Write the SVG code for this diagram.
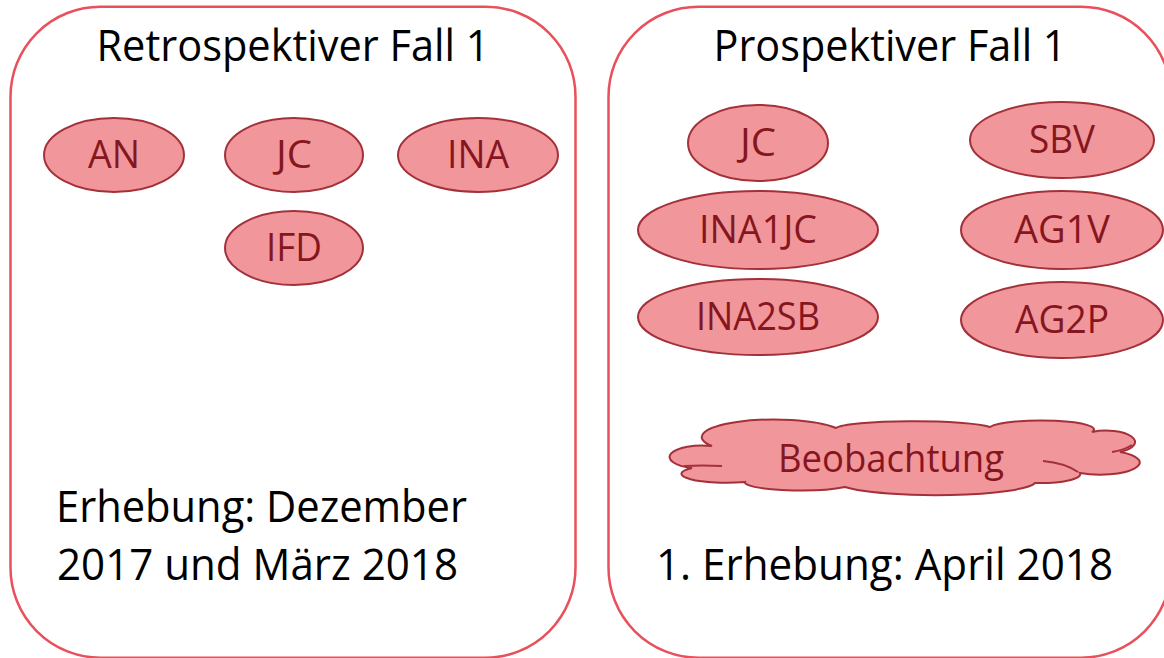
<svg xmlns="http://www.w3.org/2000/svg" width="1164" height="658" viewBox="0 0 1164 658">
<defs>
<style>
.panel{fill:#ffffff;stroke:#E8505B;stroke-width:2.5}
.node{fill:#F1969B;stroke:#A3313A;stroke-width:2}
.inner{fill:none;stroke:#A3313A;stroke-width:2}
.big{font-family:"Open Sans","Liberation Sans",sans-serif;font-size:43px;fill:#000000}
.lbl{font-family:"Open Sans","Liberation Sans",sans-serif;font-size:38px;fill:#86161E;text-anchor:middle}
</style>
</defs>
<rect width="1164" height="658" fill="#ffffff"/>
<g id="panel-retro">
<rect class="panel" x="10.5" y="6.7" width="565" height="651" rx="90" ry="90"/>
<text class="big" x="293" y="61" text-anchor="middle" textLength="393" lengthAdjust="spacingAndGlyphs">Retrospektiver Fall 1</text>
<text class="big" x="56" y="522" textLength="411" lengthAdjust="spacingAndGlyphs">Erhebung: Dezember</text>
<text class="big" x="57" y="580" textLength="401" lengthAdjust="spacingAndGlyphs">2017 und März 2018</text>
</g>
<g id="panel-prosp">
<rect class="panel" x="608.5" y="6.7" width="562.5" height="651" rx="90" ry="90"/>
<text class="big" x="890" y="61" text-anchor="middle" textLength="353" lengthAdjust="spacingAndGlyphs">Prospektiver Fall 1</text>
<text class="big" x="656" y="580" textLength="457" lengthAdjust="spacingAndGlyphs">1. Erhebung: April 2018</text>
</g>
<g id="node-AN"><ellipse class="node" cx="114" cy="155" rx="70" ry="37"/><text class="lbl" x="114" y="168" textLength="52" lengthAdjust="spacingAndGlyphs">AN</text></g>
<g id="node-JC-retro"><ellipse class="node" cx="294" cy="155" rx="69" ry="37"/><text class="lbl" x="294" y="168" textLength="36" lengthAdjust="spacingAndGlyphs">JC</text></g>
<g id="node-INA"><ellipse class="node" cx="478" cy="155" rx="80" ry="37"/><text class="lbl" x="478" y="168" textLength="62" lengthAdjust="spacingAndGlyphs">INA</text></g>
<g id="node-IFD"><ellipse class="node" cx="294" cy="248" rx="69" ry="37"/><text class="lbl" x="294" y="261" textLength="56" lengthAdjust="spacingAndGlyphs">IFD</text></g>
<g id="node-JC-prosp"><ellipse class="node" cx="758" cy="143" rx="70" ry="38"/><text class="lbl" x="758" y="156" textLength="36" lengthAdjust="spacingAndGlyphs">JC</text></g>
<g id="node-SBV"><ellipse class="node" cx="1062" cy="140" rx="92" ry="38"/><text class="lbl" x="1062" y="153" textLength="66" lengthAdjust="spacingAndGlyphs">SBV</text></g>
<g id="node-INA1JC"><ellipse class="node" cx="758" cy="230" rx="120" ry="39"/><text class="lbl" x="758" y="243" textLength="118" lengthAdjust="spacingAndGlyphs">INA1JC</text></g>
<g id="node-AG1V"><ellipse class="node" cx="1062" cy="230" rx="101" ry="39"/><text class="lbl" x="1062" y="243" textLength="96" lengthAdjust="spacingAndGlyphs">AG1V</text></g>
<g id="node-INA2SB"><ellipse class="node" cx="758" cy="317" rx="120" ry="38"/><text class="lbl" x="758" y="330" textLength="124" lengthAdjust="spacingAndGlyphs">INA2SB</text></g>
<g id="node-AG2P"><ellipse class="node" cx="1062" cy="320" rx="101" ry="38"/><text class="lbl" x="1062" y="333" textLength="94" lengthAdjust="spacingAndGlyphs">AG2P</text></g>
<g id="node-Beobachtung">
<path class="node" d="M 712 446 A 66 16 0 0 1 836 428 A 79 8 0 0 1 990 427 A 53 9 0 0 1 1092 432 A 28 11 0 0 1 1120 452 A 36 11 0 1 1 1080 473 A 40 9 0 0 1 1035 483 A 100 14 0 0 1 845 487 A 55 8 0 0 1 745 482 A 45 9 0 0 1 692 468 A 28 10 0 1 1 712 446 Z"/>
<path class="inner" d="M 684 466 Q 702 465 722 466 M 1112 452 Q 1124 450 1132 445 M 1043 461 Q 1065 463 1078 472"/>
<text class="lbl" x="891" y="472" textLength="226" lengthAdjust="spacingAndGlyphs">Beobachtung</text>
</g>
<g id="connectors"></g>
</svg>
